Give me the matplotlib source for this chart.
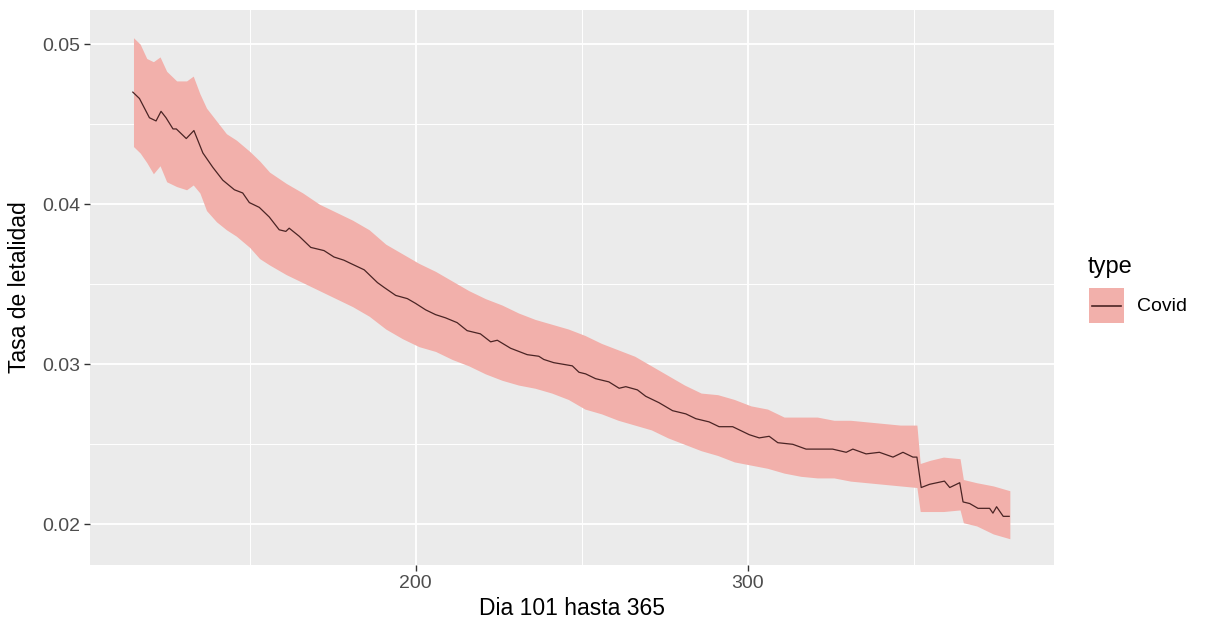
import numpy as np
import matplotlib
matplotlib.use("Agg")
import matplotlib.pyplot as plt
from matplotlib.patches import Rectangle
from matplotlib.lines import Line2D

plt.rcParams['font.family'] = ['Liberation Sans', 'DejaVu Sans']

# ribbon (upper / lower bound)
band_day = [115, 117, 119, 121, 123, 125, 128, 131, 133, 135, 137, 140, 143, 146,
            150, 153, 156, 161, 166, 171, 176, 181, 186, 191, 196, 201, 206, 211,
            216, 221, 226, 231, 236, 241, 246, 251, 256, 261, 266, 271, 276, 281,
            286, 291, 296, 301, 306, 311, 316, 321, 326, 331, 336, 341, 346, 351,
            352, 355, 359, 364, 365, 369, 374, 379]
upper = [0.0504, 0.0500, 0.0491, 0.0489, 0.0492, 0.0483, 0.0477, 0.0477, 0.0480, 0.0469,
         0.0460, 0.0452, 0.0444, 0.0440, 0.0433, 0.0427, 0.0420, 0.0413, 0.0407, 0.0400,
         0.0395, 0.0390, 0.0384, 0.0375, 0.0369, 0.0363, 0.0358, 0.0352, 0.0346, 0.0341,
         0.0337, 0.0332, 0.0328, 0.0325, 0.0322, 0.0318, 0.0313, 0.0309, 0.0305, 0.0299,
         0.0293, 0.0287, 0.0282, 0.0281, 0.0278, 0.0274, 0.0272, 0.0267, 0.0267, 0.0267,
         0.0265, 0.0265, 0.0264, 0.0263, 0.0262, 0.0262,
         0.0238, 0.0240, 0.0242, 0.0241, 0.0228, 0.0226, 0.0224, 0.0221]
lower = [0.0436, 0.0432, 0.0426, 0.0419, 0.0424, 0.0414, 0.0411, 0.0409, 0.0412, 0.0407,
         0.0396, 0.0389, 0.0384, 0.0380, 0.0373, 0.0366, 0.0362, 0.0356, 0.0351, 0.0346,
         0.0341, 0.0336, 0.0330, 0.0322, 0.0316, 0.0311, 0.0308, 0.0303, 0.0299, 0.0294,
         0.0290, 0.0287, 0.0285, 0.0282, 0.0278, 0.0272, 0.0269, 0.0265, 0.0262, 0.0259,
         0.0254, 0.0250, 0.0246, 0.0243, 0.0239, 0.0237, 0.0235, 0.0232, 0.0230, 0.0229,
         0.0229, 0.0227, 0.0226, 0.0225, 0.0224, 0.0223,
         0.0208, 0.0208, 0.0208, 0.0209, 0.0201, 0.0199, 0.0194, 0.0191]

# central line
line_day = [114.8, 116.8, 119.8, 121.8, 123.3, 124.8, 126.9, 127.9, 130.9, 133.2,
            135.9, 138.9, 141.9, 145.4, 147.9, 149.9, 152.9, 155.9, 158.9, 160.9,
            161.9, 164.9, 168.4, 172.4, 175.4, 178.4, 180.4, 184.5, 188.5, 190.5,
            194.0, 197.5, 200.0, 203.0, 206.0, 209.0, 212.5, 215.5, 219.5, 222.6,
            224.6, 228.6, 233.6, 237.1, 238.6, 241.6, 247.2, 249.2, 251.2, 254.2,
            258.2, 261.3, 263.3, 266.8, 269.3, 273.3, 277.4, 281.4, 284.4, 288.4,
            291.4, 295.5, 297.5, 300.5, 303.5, 306.5, 309.1, 313.6, 317.6, 321.6,
            325.6, 329.7, 331.7, 335.7, 339.7, 343.8, 346.8, 349.8, 351.0, 352.3,
            354.8, 359.3, 360.9, 363.9, 364.9, 366.9, 369.4, 372.9, 373.9, 375.0,
            377.0, 378.8]
tasa = [0.0470, 0.0466, 0.0454, 0.0452, 0.0458, 0.0454, 0.0447, 0.0447, 0.0441, 0.0446,
        0.0432, 0.0423, 0.0415, 0.0409, 0.0407, 0.0401, 0.0398, 0.0392, 0.0384, 0.0383,
        0.0385, 0.0380, 0.0373, 0.0371, 0.0367, 0.0365, 0.0363, 0.0359, 0.0351, 0.0348,
        0.0343, 0.0341, 0.0338, 0.0334, 0.0331, 0.0329, 0.0326, 0.0321, 0.0319, 0.0314,
        0.0315, 0.0310, 0.0306, 0.0305, 0.0303, 0.0301, 0.0299, 0.0295, 0.0294, 0.0291,
        0.0289, 0.0285, 0.0286, 0.0284, 0.0280, 0.0276, 0.0271, 0.0269, 0.0266, 0.0264,
        0.0261, 0.0261, 0.0259, 0.0256, 0.0254, 0.0255, 0.0251, 0.0250, 0.0247, 0.0247,
        0.0247, 0.0245, 0.0247, 0.0244, 0.0245, 0.0242, 0.0245, 0.0242, 0.0242, 0.0223,
        0.0225, 0.0227, 0.0223, 0.0226, 0.0214, 0.0213, 0.0210, 0.0210, 0.0207, 0.0211,
        0.0205, 0.0205]

x_ticks = [200, 300]
y_ticks = [0.02, 0.03, 0.04, 0.05]
y_labels = ['0.02', '0.03', '0.04', '0.05']

W, H = 1205, 631
fig = plt.figure(figsize=(W / 100, H / 100), dpi=100)
ax = fig.add_axes([90/W, 1 - 565/H, 964/W, 555/H])
ax.set_facecolor('#EBEBEB')

band_col = '#F2B0AB'
line_col = '#4a2424'
ax.fill_between(band_day, lower, upper, color=band_col, lw=0, zorder=2)
ax.plot(line_day, tasa, color=line_col, lw=0.9, zorder=3)

ax.set_xlim(101.9, 392.3)
ax.set_ylim(0.01746, 0.05213)
ax.set_xticks(x_ticks)
ax.set_xticks([150, 250, 350], minor=True)
ax.set_yticks(y_ticks)
ax.set_yticklabels(y_labels)
ax.set_yticks([0.025, 0.035, 0.045], minor=True)

ax.grid(which='major', color='white', lw=1.3, zorder=1)
ax.grid(which='minor', color='white', lw=0.7, zorder=1)
ax.set_axisbelow(True)
for s in ax.spines.values():
    s.set_visible(False)
ax.tick_params(which='major', length=4, width=1, color='#333333',
               labelsize=14, labelcolor='#4D4D4D', pad=3)
ax.tick_params(which='minor', length=0)

ax.set_xlabel('Dia 101 hasta 365', fontsize=16.5, color='black', labelpad=4)
ax.set_ylabel('Tasa de letalidad', fontsize=16.5, color='black', labelpad=8)

# legend drawn by hand (ggplot style square key)
fig.text(1088/W, 1 - 267/H, 'type', fontsize=17, va='center', ha='left')
fig.patches.append(Rectangle((1089/W, 1 - 323/H), 35/W, 35/H,
                             transform=fig.transFigure, facecolor=band_col,
                             edgecolor='none'))
fig.lines.append(Line2D([1092/W, 1121/W], [1 - 305.5/H, 1 - 305.5/H],
                        transform=fig.transFigure, color=line_col, lw=1.2))
fig.text(1137/W, 1 - 307/H, 'Covid', fontsize=14, va='center', ha='left')

fig.savefig('out.png', dpi=100, facecolor='white')
